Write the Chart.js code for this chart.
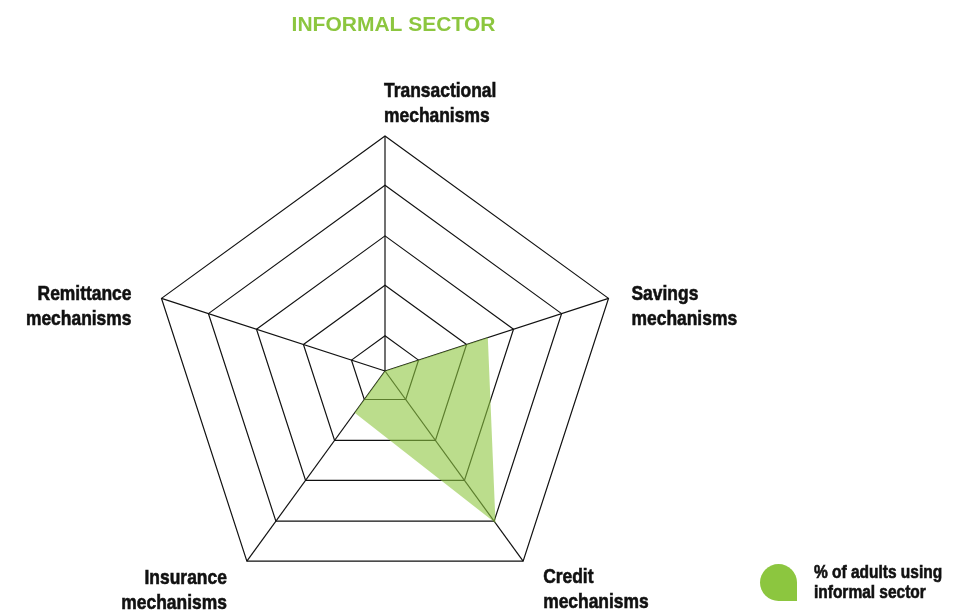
<!DOCTYPE html>
<html>
<head>
<meta charset="utf-8">
<script src="https://cdn.jsdelivr.net/npm/chart.js@4.4.1/dist/chart.umd.min.js"></script>
<style>
html,body{margin:0;padding:0;background:#fff;}
#wrap{position:relative;width:961px;height:611px;overflow:hidden;}
canvas{position:absolute;left:0;top:0;}
</style>
</head>
<body>
<div id="wrap"><canvas id="c" width="961" height="611"></canvas></div>
<script>
// ---- data ----
const chartTitle = 'INFORMAL SECTOR';
const categories = [
  ['Transactional', 'mechanisms'],
  ['Savings', 'mechanisms'],
  ['Credit', 'mechanisms'],
  ['Insurance', 'mechanisms'],
  ['Remittance', 'mechanisms']
];
const seriesName = ['% of adults using', 'informal sector'];
const informalSector = [0, 46, 80, 22, 0];
const ringValues = [15, 36.5, 57.5, 79, 100];

const GREEN = '#8cc63f';
const SANS = '"Liberation Sans", Arial, Helvetica, sans-serif';

function narrowText(ctx, text, x, y, align, sx) {
  ctx.save();
  ctx.translate(x, y);
  ctx.scale(sx, 1);
  ctx.textAlign = align;
  ctx.lineWidth = 0.6;
  ctx.strokeStyle = ctx.fillStyle;
  ctx.fillText(text, 0, 0);
  ctx.strokeText(text, 0, 0);
  ctx.restore();
}

const textPlugin = {
  id: 'textPlugin',
  afterDraw(chart) {
    const ctx = chart.ctx;
    const s = chart.scales.r;
    ctx.save();
    ctx.textBaseline = 'alphabetic';
    // title
    ctx.fillStyle = GREEN;
    ctx.font = 'bold 21px ' + SANS;
    ctx.textAlign = 'center';
    ctx.fillText(chartTitle, 393.5, 31);

    // axis labels
    const place = [
      {dx: -1, dy: -39, align: 'left'},
      {dx: 23, dy: 2, align: 'left'},
      {dx: 20, dy: 22, align: 'left'},
      {dx: -20, dy: 23, align: 'right'},
      {dx: -30, dy: 2, align: 'right'}
    ];
    ctx.fillStyle = '#111';
    ctx.font = 'bold 21px ' + SANS;
    categories.forEach((lines, i) => {
      const p = s.getPointPosition(i, s.drawingArea);
      const o = place[i];
      lines.forEach((t, k) => narrowText(ctx, t, p.x + o.dx, p.y + o.dy + k * 25, o.align, 0.83));
    });

    // legend
    ctx.fillStyle = GREEN;
    ctx.beginPath();
    ctx.roundRect(760, 564, 37, 37, [18.5, 18.5, 0, 18.5]);
    ctx.fill();
    ctx.fillStyle = '#111';
    ctx.font = 'bold 18px ' + SANS;
    seriesName.forEach((t, k) => narrowText(ctx, t, 814, 578 + k * 20, 'left', 0.86));
    ctx.restore();
  }
};

new Chart(document.getElementById('c'), {
  type: 'radar',
  data: {
    labels: categories,
    datasets: [{
      label: seriesName.join(' '),
      data: informalSector,
      fill: true,
      backgroundColor: 'rgba(141,198,63,0.6)',
      borderColor: 'rgba(0,0,0,0)',
      borderWidth: 0,
      pointRadius: 0,
      pointHoverRadius: 0,
      tension: 0
    }]
  },
  options: {
    responsive: false,
    devicePixelRatio: 1,
    animation: false,
    layout: {padding: {left: 150, right: 341, top: 136, bottom: 5}},
    plugins: {legend: {display: false}, title: {display: false}, tooltip: {enabled: false}},
    scales: {
      r: {
        min: 0,
        max: 100,
        afterBuildTicks(scale) {
          scale.ticks = [0].concat(ringValues).map(v => ({value: v}));
        },
        ticks: {display: false},
        grid: {color: '#111', lineWidth: 1.2},
        angleLines: {display: true, color: '#111', lineWidth: 1.2},
        pointLabels: {display: false}
      }
    }
  },
  plugins: [textPlugin]
});
</script>
</body>
</html>
